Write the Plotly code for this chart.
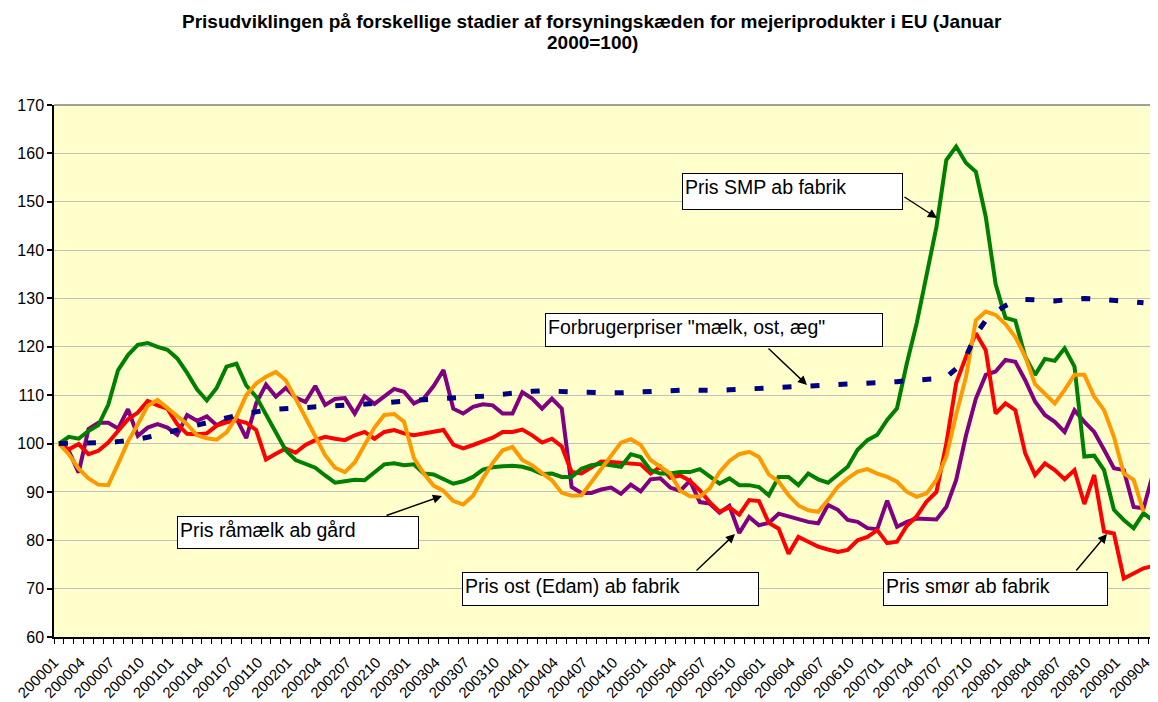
import plotly.graph_objects as go

# ---------------- data ----------------
months = [f"{y}{m:02d}" for y in range(2000, 2010) for m in range(1, 13)][:113]

smp_pris = [  # Pris SMP ab fabrik (green)
    100, 101.4, 101, 102.6, 103.8, 108, 115.2, 118.3, 120.4, 120.8,
    120, 119.4, 117.6, 114.6, 111.2, 108.9, 111.5, 115.9, 116.5, 112,
    109.7, 105.9, 102.1, 98.6, 96.6, 95.7, 95, 93.4, 91.9, 92.2,
    92.5, 92.4, 94.1, 95.7, 95.9, 95.5, 95.7, 93.8, 93.6, 92.6,
    91.7, 92.2, 93.1, 94.6, 95.1, 95.3, 95.4, 95.2, 94.6, 93.7,
    93.8, 93.1, 93.1, 94.8, 95.5, 95.8, 95.5, 95.2, 97.8, 97.2,
    94.5, 93.8, 93.8, 94.1, 94.1, 94.7, 93.2, 91.7, 92.8, 91.4,
    91.4, 91, 89.3, 93.1, 93.1, 91.4, 93.8, 92.6, 91.9, 93.5,
    95.2, 98.7, 100.7, 101.8, 104.9, 107.3, 116.6, 124.9, 135.3, 144.8,
    158.6, 161.4, 158, 156.2, 146.9, 133, 126, 125.4, 118, 114.2,
    117.5, 117.1, 119.7, 115.9, 97.3, 97.5, 94.5, 86.3, 84.2, 82.5,
    85.6, 84, 82,
]

raamaelk_pris = [  # Pris råmælk ab gård (orange)
    100, 97.8, 94.8, 92.8, 91.5, 91.4, 95.8, 100.4, 104, 107.8,
    109, 107.3, 105.8, 104, 101.7, 101.1, 100.8, 102.3, 105.5, 110,
    112.4, 113.8, 114.8, 113.1, 109.3, 105.4, 101.5, 97.6, 95, 94.1,
    96.1, 99.5, 103.3, 105.9, 106.1, 104.5, 97, 93.8, 91.3, 90.2,
    88.1, 87.4, 89.2, 92.8, 96, 98.6, 99.3, 96.6, 95.5, 93.9,
    92.4, 89.8, 89.2, 89.3, 92.1, 94.8, 97.6, 100.2, 100.9, 99.7,
    96.6, 95.2, 93.8, 90.3, 89.1, 89, 90.7, 94.1, 96.4, 97.8,
    98.3, 97.2, 93.6, 92.1, 89.3, 87.2, 86.2, 85.9, 88.3, 91.1,
    92.8, 94.2, 94.7, 93.8, 93.1, 92.1, 90, 89, 89.7, 92.5,
    97.3, 106, 113.8, 125.5, 127.3, 126.6, 124.7, 122, 118, 112.3,
    110.4, 108.3, 111.1, 114.2, 114.2, 109.7, 106.9, 101.4, 93.8, 92.5,
    85.9,
]

smoer_pris = [  # Pris smør ab fabrik (red)
    100, 98.8, 99.9, 97.8, 98.5, 100.2, 102.6, 105, 106.4, 108.8,
    107.9, 107.2, 104, 102, 101.9, 102.1, 103.7, 104.4, 104.8, 104.3,
    102.8, 96.7, 97.9, 99, 98.1, 99.7, 100.7, 101.4, 101, 100.7,
    101.7, 102.4, 101, 102.4, 102.8, 102.1, 101.7, 102.1, 102.4, 102.8,
    99.8, 99, 99.7, 100.5, 101.2, 102.4, 102.4, 102.9, 101.7, 100.2,
    101, 99.4, 94.1, 93.8, 95, 96.3, 96.2, 96.1, 95.9, 95.7,
    93.8, 95.2, 92.9, 93.4, 92.3, 90.3, 87.9, 85.9, 86.8, 85.3,
    88.3, 88.1, 83.6, 82.4, 77.2, 80.7, 79.7, 78.7, 78.1, 77.6,
    78, 80, 80.7, 82.1, 79.4, 79.7, 83, 85, 88, 90,
    100, 112.5, 118, 122.8, 119.3, 106.2, 108.3, 106.9, 98, 93.5,
    95.9, 94.5, 92.6, 94.5, 87.5, 93.5, 81.8, 81.4, 72.1, 73.2,
    74.2, 74.7, 75,
]

ost_pris = [  # Pris ost (Edam) ab fabrik (purple)
    100, 98.5, 94, 103, 104.3, 104.3, 103.1, 107.1, 101.6, 103.3,
    104, 103.3, 101.8, 105.9, 104.7, 105.6, 103.8, 104.9, 105.2, 101.1,
    108.3, 112.2, 109.7, 111.5, 109.5, 108.6, 111.9, 108, 109.2, 109.4,
    106.2, 109.8, 108.2, 109.8, 111.3, 110.7, 108.3, 109.3, 111.9, 115.2,
    107.2, 106.2, 107.6, 108.1, 107.9, 106.2, 106.2, 110.6, 109.3, 107.2,
    109.3, 107.2, 91, 89.8, 89.8, 90.5, 90.9, 89.6, 91.5, 90.1,
    92.6, 92.8, 90.9, 90.2, 92.3, 87.9, 87.6, 85.7, 87.1, 81.5,
    84.8, 83.1, 83.6, 85.5, 84.9, 84.3, 83.8, 83.5, 87.3, 86.3,
    84.2, 83.8, 82.5, 82.3, 88.2, 82.8, 83.8, 84.5, 84.5, 84.3,
    86.9, 92.5, 101.7, 109.3, 114.2, 114.9, 117.3, 116.9, 113.1, 108.7,
    105.9, 104.5, 102.4, 106.9, 104.5, 102.4, 98.7, 94.9, 94.5, 86.9,
    86.6, 94, 98,
]

forbruger_pris = [  # Forbrugerpriser "mælk, ost, æg" (navy, dashed)
    100, 100, 100, 100, 100, 100.2, 100.4, 100.6, 100.9, 101.3,
    101.8, 102.4, 103, 103.5, 104, 104.4, 104.9, 105.4, 105.8, 106.2,
    106.6, 106.9, 107.1, 107.2, 107.3, 107.5, 107.6, 107.7, 107.8, 107.9,
    108, 108.1, 108.2, 108.4, 108.6, 108.8, 108.9, 109.1, 109.2, 109.3,
    109.5, 109.6, 109.7, 109.8, 110, 110.3, 110.6, 110.7, 110.8, 110.9,
    110.9, 110.8, 110.7, 110.6, 110.5, 110.5, 110.5, 110.5, 110.6, 110.7,
    110.8, 110.9, 111, 111.1, 111.1, 111, 110.9, 111, 111.1, 111.2,
    111.3, 111.4, 111.5, 111.5, 111.5, 111.6, 111.7, 111.8, 111.9, 112,
    112.2, 112.3, 112.4, 112.6, 112.7, 112.8, 113, 113.1, 113.2, 113.4,
    113.7, 115.5, 118, 122.5, 125.5, 127.2, 128.5, 129.5, 129.8, 129.7,
    129.6, 129.5, 129.7, 129.9, 130, 129.9, 129.8, 129.6, 129.5, 129.3,
    129.1,
]

tick_every = 3
tick_labels = months[:112:tick_every]
title_lines = [
    "Prisudviklingen på forskellige stadier af forsyningskæden for mejeriprodukter i EU (Januar",
    "2000=100)",
]

# ---------------- figure ----------------
OFF = 8                      # page body margin of the html page
W, H = 1158 - OFF, 702 - OFF
L, R, T, B = 54 - OFF, 0, 105 - OFF, 65
FONT = "Liberation Sans, Arial, sans-serif"
X_RANGE = [-0.5, 111.47]


def idx(series):
    return list(range(len(series)))


fig = go.Figure()
series = [
    (ost_pris, "#800080", None, 4, "Pris ost (Edam) ab fabrik"),
    (smoer_pris, "#FF0000", None, 4, "Pris smør ab fabrik"),
    (smp_pris, "#008000", None, 4, "Pris SMP ab fabrik"),
    (raamaelk_pris, "#FF9900", None, 4, "Pris råmælk ab gård"),
    (forbruger_pris, "#000080", "9px,19px", 5, 'Forbrugerpriser "mælk, ost, æg"'),
]
for vals, col, dash, w, name in series:
    fig.add_trace(go.Scatter(
        x=idx(vals), y=vals, mode="lines", name=name,
        line=dict(color=col, width=w, dash=dash),
        hoverinfo="skip", showlegend=False,
    ))


def px2paper(px, py):
    """page pixel -> paper fraction"""
    fx, fy = px - OFF, py - OFF
    pw = W - L - R
    ph = H - T - B
    return (fx - L) / pw, (H - B - fy) / ph


annotations = []

# title, two centred bold lines (page pixel centres)
for line, cy in zip(title_lines, [22, 43]):
    tx_, ty_ = px2paper(592, cy)
    annotations.append(dict(
        text=f"<b>{line}</b>", xref="paper", yref="paper", x=tx_, y=ty_,
        xanchor="center", yanchor="middle", showarrow=False,
        font=dict(family=FONT, size=19, color="black"),
    ))

# text boxes: (text, left, top, width, height) in page pixels
boxes = [
    ("Pris SMP ab fabrik", 682, 173, 221, 37),
    ('Forbrugerpriser "mælk, ost, æg"', 545, 313, 338, 34),
    ("Pris råmælk ab gård", 177, 516, 242, 33),
    ("Pris ost (Edam) ab fabrik", 462, 572, 297, 34),
    ("Pris smør ab fabrik", 883, 572, 225, 34),
]
for text, bx, by, bw, bh in boxes:
    ax_, ay_ = px2paper(bx, by)
    annotations.append(dict(
        text=text, xref="paper", yref="paper", x=ax_, y=ay_,
        xanchor="left", yanchor="top", showarrow=False,
        align="left", valign="top", width=bw - 6, height=bh - 6,
        bgcolor="white", bordercolor="black", borderwidth=1, borderpad=2,
        font=dict(family=FONT, size=19.5, color="black"),
    ))

# arrows: (head x, head y, tail x, tail y) in page pixels
arrows = [
    (937, 218, 903, 196),
    (807, 385, 767, 347),
    (442, 496, 385, 516),
    (735, 534, 695, 572),
    (1107, 534, 1075, 572),
]
for hx, hy, tx, ty in arrows:
    px_, py_ = px2paper(hx, hy)
    annotations.append(dict(
        text="", xref="paper", yref="paper", x=px_, y=py_,
        ax=tx - hx, ay=ty - hy, showarrow=True,
        arrowhead=2, arrowsize=1.3, arrowwidth=1.4, arrowcolor="black",
        standoff=0, startstandoff=0,
    ))

fig.update_layout(
    width=W, height=H,
    margin=dict(l=L, r=R, t=T, b=B, autoexpand=False),
    paper_bgcolor="white",
    plot_bgcolor="#FFFFCC",
    font=dict(family=FONT, color="black"),
    annotations=annotations,
    shapes=[dict(type="line", xref="paper", yref="paper", x0=0, x1=1, y0=1, y1=1,
                 line=dict(color="#808080", width=1.5), layer="below")],
)

# Excel draws the rotated labels slightly left of the category centre;
# keep the first one just inside the axis range so it is not dropped.
label_shift = -0.8
label_pos = [max(i + label_shift, X_RANGE[0] + 0.02) for i in range(0, 112, tick_every)]
fig.update_xaxes(
    range=X_RANGE,
    tickmode="array",
    tickvals=label_pos,
    ticktext=tick_labels,
    tickangle=-45,
    ticks="",
    ticklabelstandoff=9,
    tickfont=dict(family=FONT, size=15, color="black"),
    showgrid=False, zeroline=False,
    showline=True, linecolor="black", linewidth=1.5,
    minor=dict(tickmode="linear", tick0=-0.5, dtick=1, ticks="outside",
               ticklen=5, tickwidth=1, tickcolor="black", showgrid=False),
)
fig.update_yaxes(
    range=[60, 170], dtick=10, tick0=60,
    ticks="outside", ticklen=5, tickwidth=1.5, tickcolor="black",
    tickfont=dict(family=FONT, size=16, color="black"),
    showgrid=True, gridcolor="#C0C0C0", gridwidth=1.2,
    zeroline=False,
    showline=True, linecolor="black", linewidth=1.5,
)

fig.write_html("out.html")
